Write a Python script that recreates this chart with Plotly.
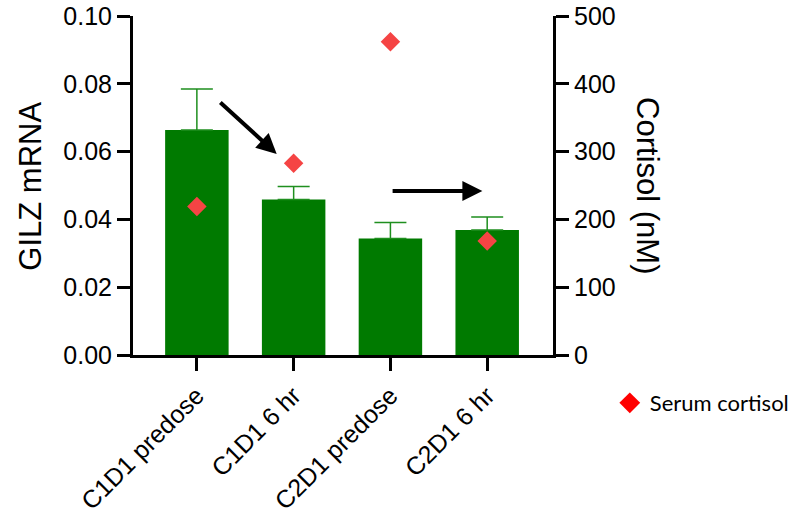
import plotly.graph_objects as go

categories = ["C1D1 predose", "C1D1 6 hr", "C2D1 predose", "C2D1 6 hr"]
gilz_mean = [0.0664, 0.0459, 0.0344, 0.0369]
gilz_err = [0.0121, 0.0038, 0.0047, 0.0038]
cortisol = [219, 283, 462, 168]
left_ticks = [0, 0.02, 0.04, 0.06, 0.08, 0.10]
right_ticks = [0, 100, 200, 300, 400, 500]

FONT = "Liberation Sans, Arial, sans-serif"
GREEN = "#007a00"
ERR_GREEN = "#1f8f1f"

fig = go.Figure()
fig.add_trace(go.Bar(
    x=categories, y=gilz_mean, width=0.656,
    marker=dict(color=GREEN, line=dict(width=0)),
    error_y=dict(type="data", symmetric=False, array=gilz_err,
                 arrayminus=[0] * len(gilz_err), color=ERR_GREEN,
                 thickness=1.5, width=16),
    showlegend=False, yaxis="y",
))
fig.add_trace(go.Scatter(
    x=categories, y=cortisol, mode="markers", yaxis="y2",
    marker=dict(symbol="diamond", size=15, color="#f54444"),
    showlegend=False,
))
fig.add_trace(go.Scatter(
    x=[None], y=[None], mode="markers", yaxis="y2",
    name="Serum cortisol",
    marker=dict(symbol="diamond", size=20, color="#ff0000"),
))

arrow_style = dict(xref="x", yref="y", axref="x", ayref="y", text="",
                   showarrow=True, arrowhead=2, arrowsize=1, arrowwidth=4,
                   arrowcolor="black")
fig.add_annotation(x=0.825, y=0.0593, ax=0.227, ay=0.0749, **arrow_style)
fig.add_annotation(x=2.95, y=0.0484, ax=2.007, ay=0.0484, **arrow_style)

fig.add_annotation(text="GILZ mRNA", xref="paper", yref="paper", x=-0.246, y=0.4985,
                   xanchor="center", yanchor="middle", textangle=-90, showarrow=False,
                   font=dict(family=FONT, size=31, color="black"))
fig.add_annotation(text="Cortisol (nM)", xref="paper", yref="paper", x=1.226, y=0.4985,
                   xanchor="center", yanchor="middle", textangle=90, showarrow=False,
                   font=dict(family=FONT, size=31, color="black"))

axis_common = dict(showline=True, linecolor="black", linewidth=3,
                   ticks="outside", ticklen=13, tickwidth=3, tickcolor="black",
                   showgrid=False, zeroline=False, automargin=False,
                   ticklabeloverflow="allow",
                   tickfont=dict(family=FONT, size=25, color="black"))

fig.update_layout(
    width=794, height=519,
    margin=dict(l=133, r=241, t=16, b=164, autoexpand=False),
    paper_bgcolor="white", plot_bgcolor="white",
    font=dict(family=FONT, color="black"),
    xaxis=dict(range=[-0.66, 3.68], tickangle=-45, ticklabelstandoff=0, **axis_common),
    yaxis=dict(range=[0, 0.1], tickvals=left_ticks, tickformat=".2f", **axis_common),
    yaxis2=dict(range=[0, 500], tickvals=right_ticks, overlaying="y", side="right",
                **axis_common),
    legend=dict(xref="container", yref="container", x=0.768, y=0.2235,
                xanchor="left", yanchor="middle",
                font=dict(family="Lato, sans-serif", size=22, color="black"),
                bgcolor="rgba(0,0,0,0)"),
)

fig.write_html("out.html", config={"displayModeBar": False},
               post_script="document.body.style.margin='0';")
